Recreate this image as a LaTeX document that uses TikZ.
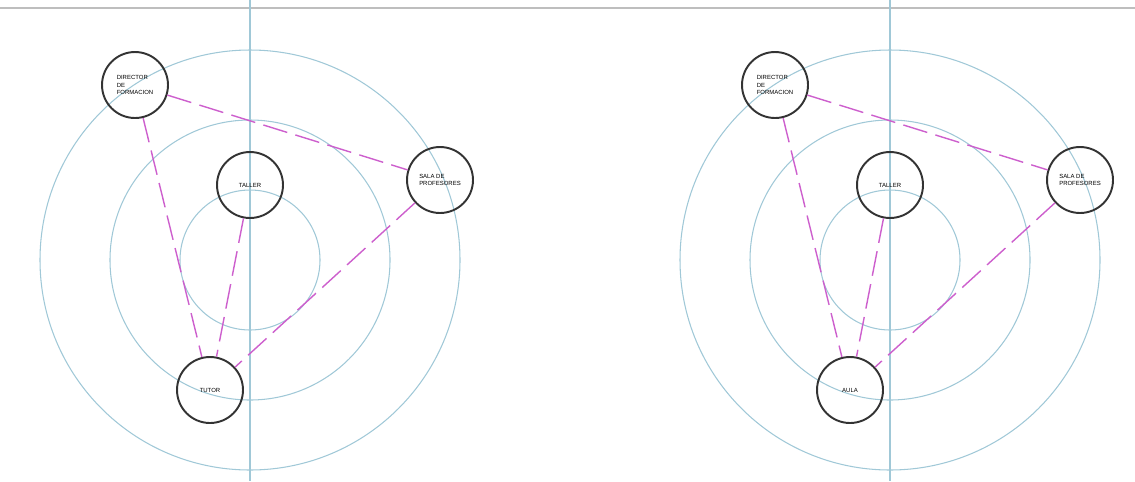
\documentclass[tikz,border=0pt]{standalone}
\usepackage{fontspec}
\setmainfont{Liberation Sans}
\usepackage{tikz}
\usetikzlibrary{positioning}

\definecolor{ringblue}{RGB}{160,200,215}
\definecolor{linkpink}{RGB}{205,95,205}
\definecolor{topgray}{RGB}{190,190,190}

\begin{document}
\begin{tikzpicture}[
  x=0.02cm, y=-0.02cm,
  ring/.style={draw=ringblue, line width=0.6pt},
  place/.style={circle, draw=black!80, line width=1.1pt, minimum size=1.32cm,
                inner sep=0pt, align=left, font=\fontsize{3.4}{4.2}\selectfont},
  link/.style={draw=linkpink, line width=0.8pt, dash pattern=on 0.5cm off 0.17cm}
]
\useasboundingbox (0,0) rectangle (1135,481);
\draw[topgray, line width=1.6pt] (0,8) -- (1135,8);

\foreach \i/\cx/\low in {1/250/TUTOR, 2/890/AULA} {
  % rings and axis
  \draw[ring] (\cx,0) -- (\cx,481);
  \draw[ring] (\cx,260) circle[radius=70];
  \draw[ring] (\cx,260) circle[radius=140];
  \draw[ring] (\cx,260) circle[radius=210];
  % places
  \node[place] (dir\i) at (\cx-115,85) {DIRECTOR\\DE\\FORMACION};
  \node[place] (taller\i) at (\cx,185) {TALLER};
  \node[place] (sala\i) at (\cx+190,180) {SALA DE\\PROFESORES};
  \node[place] (low\i) at (\cx-40,390) {\low};
  % links
  \draw[link] (dir\i) -- (sala\i);
  \draw[link] (dir\i) -- (low\i);
  \draw[link] (taller\i) -- (low\i);
  \draw[link] (sala\i) -- (low\i);
}
\end{tikzpicture}
\end{document}
